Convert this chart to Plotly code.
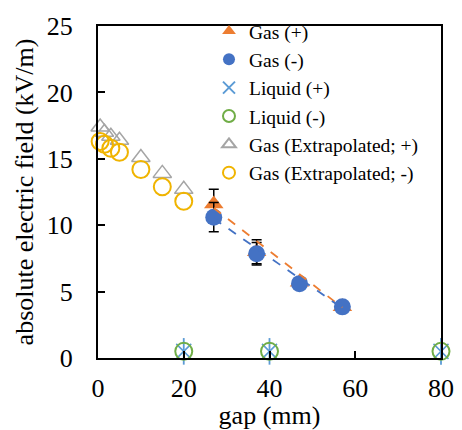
import plotly.graph_objects as go

# ---- data ----
gap_gas = [27, 37, 47, 57]
gas_pos = [11.6, 8.0, 5.7, 3.85]
gas_pos_err = [1.1, 0.9, 0.3, 0.3]
gas_neg = [10.6, 7.85, 5.6, 3.85]
gas_neg_err = [1.1, 0.85, 0.3, 0.3]

gap_liq = [20, 40, 80]
liq_pos = [0.5, 0.5, 0.5]
liq_neg = [0.5, 0.5, 0.5]

gap_ext = [0.5, 1.5, 3, 5, 10, 15, 20]
ext_pos = [17.4, 17.0, 16.7, 16.4, 15.1, 13.9, 12.7]
ext_neg = [16.3, 16.1, 15.8, 15.5, 14.2, 12.9, 11.8]

trend_x = [27, 57]
trend_pos = [11.3, 3.8]
trend_neg = [10.5, 3.75]

x_ticks = [0, 20, 40, 60, 80]
y_ticks = [0, 5, 10, 15, 20, 25]

ORANGE = "#ED7D31"
BLUE = "#4472C4"
LBLUE = "#5B9BD5"
GREEN = "#70AD47"
GRAY = "#A5A5A5"
GOLD = "#F0B400"

FONT = "Liberation Serif"

fig = go.Figure()

fig.add_trace(go.Scatter(
    x=gap_gas, y=gas_pos, mode="markers", name="Gas (+)",
    marker=dict(symbol="triangle-up", size=17, color=ORANGE),
    error_y=dict(type="data", array=gas_pos_err, color="black", thickness=1.5, width=5),
    cliponaxis=False))
fig.add_trace(go.Scatter(
    x=gap_gas, y=gas_neg, mode="markers", name="Gas (-)",
    marker=dict(symbol="circle", size=17, color=BLUE),
    error_y=dict(type="data", array=gas_neg_err, color="black", thickness=1.5, width=5),
    cliponaxis=False))
fig.add_trace(go.Scatter(
    x=gap_liq, y=liq_pos, mode="markers", name="Liquid (+)", legendgroup="lp",
    marker=dict(symbol="x-thin-open", size=15, color=LBLUE, line=dict(color=LBLUE, width=1.5)),
    cliponaxis=False))
fig.add_trace(go.Scatter(
    x=gap_liq, y=liq_pos, mode="markers", name="Liquid (+)", legendgroup="lp", showlegend=False,
    marker=dict(symbol="line-ns-open", size=19, color=LBLUE, line=dict(color=LBLUE, width=1.8)),
    cliponaxis=False))
fig.add_trace(go.Scatter(
    x=gap_liq, y=liq_neg, mode="markers", name="Liquid (-)",
    marker=dict(symbol="circle-open", size=17, color=GREEN, line=dict(color=GREEN, width=2)),
    cliponaxis=False))
fig.add_trace(go.Scatter(
    x=gap_ext, y=ext_pos, mode="markers", name="Gas (Extrapolated; +)",
    marker=dict(symbol="triangle-up-open", size=16, color=GRAY, line=dict(color=GRAY, width=1.5)),
    cliponaxis=False))
fig.add_trace(go.Scatter(
    x=gap_ext, y=ext_neg, mode="markers", name="Gas (Extrapolated; -)",
    marker=dict(symbol="circle-open", size=17, color=GOLD, line=dict(color=GOLD, width=2)),
    cliponaxis=False))

fig.add_trace(go.Scatter(
    x=trend_x, y=trend_pos, mode="lines", showlegend=False,
    line=dict(color=ORANGE, width=1.8, dash="dash")))
fig.add_trace(go.Scatter(
    x=trend_x, y=trend_neg, mode="lines", showlegend=False,
    line=dict(color=BLUE, width=1.8, dash="dash")))

axis_common = dict(
    showline=True, linecolor="black", linewidth=2, mirror=True,
    showgrid=False, zeroline=False, automargin=False,
    ticks="inside", ticklen=7, tickwidth=1.5, tickcolor="black",
    tickfont=dict(family=FONT, size=26, color="black"),
)

fig.update_layout(
    width=462, height=430,
    margin=dict(l=98, r=21, t=20, b=72),
    paper_bgcolor="white", plot_bgcolor="white",
    font=dict(family=FONT, size=26, color="black"),
    legend=dict(x=0.3236, y=1.043, xanchor="left", yanchor="top",
                font=dict(family=FONT, size=19.5, color="black"),
                bgcolor="rgba(0,0,0,0)", tracegroupgap=0, itemwidth=30,
                itemsizing="constant"),
    xaxis=dict(range=[0, 80], tickvals=x_ticks, ticklabelstandoff=6,
               title=dict(text="gap (mm)", standoff=6,
                          font=dict(family=FONT, size=26, color="black")),
               **axis_common),
    yaxis=dict(range=[0, 25], tickvals=y_ticks, ticklabelstandoff=18,
               title=dict(text="absolute electric field (kV/m)", standoff=6,
                          font=dict(family=FONT, size=26, color="black")),
               **axis_common),
)

fig.write_html("out.html")
